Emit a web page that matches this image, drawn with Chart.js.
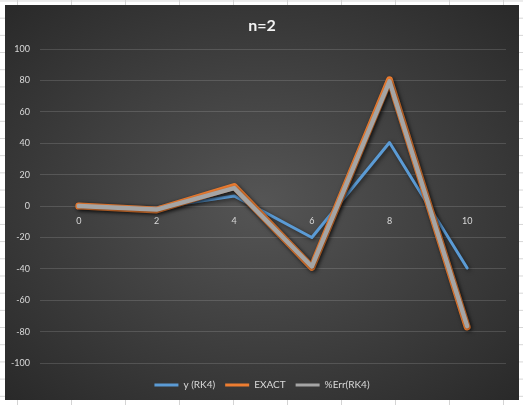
<!DOCTYPE html>
<html>
<head>
<meta charset="utf-8">
<script src="https://cdn.jsdelivr.net/npm/chart.js@4"></script>
<style>
  html, body { margin: 0; padding: 0; }
  body {
    width: 523px; height: 405px; overflow: hidden; position: relative;
    background-color: #fff;
    background-image:
      linear-gradient(to right, #d4d4d4 1px, transparent 1px),
      linear-gradient(to bottom, #d4d4d4 1px, transparent 1px);
    background-size: 54px 100%, 100% 17.2px;
    background-position: 17px 0, 0 0.5px;
  }
  #box {
    position: absolute; left: 5px; top: 5px; width: 514px; height: 395px;
    background: radial-gradient(ellipse farthest-corner at 50% 50%, #555555 0%, #292929 100%);
  }
</style>
</head>
<body>
<div id="box"><canvas id="chart"></canvas></div>
<script>
const categories = ['0', '2', '4', '6', '8', '10'];
const yRK4 = [0, -1, 6.5, -20, 40.5, -39.5];
const exact = [0, -2.5, 12.5, -39, 80.5, -77];
const errRK4 = [0, -2.2, 11.5, -38.5, 79.5, -76.5];
const yTicks = [-100, -80, -60, -40, -20, 0, 20, 40, 60, 80, 100];

const FONT = 'Lato, "Open Sans", sans-serif';
const TEXT = '#d9d9d9';

// soft dark shadow under each series, like the Excel style
const lineShadow = {
    id: 'lineShadow',
    beforeDatasetDraw(chart) {
        const c = chart.ctx;
        c.save();
        c.shadowColor = 'rgba(0,0,0,0.55)';
        c.shadowBlur = 4;
        c.shadowOffsetX = 1.5;
        c.shadowOffsetY = 1.5;
    },
    afterDatasetDraw(chart) {
        chart.ctx.restore();
    }
};

const ctx = document.getElementById('chart').getContext('2d');
const chart = new Chart(ctx, {
    type: 'line',
    data: {
        labels: categories,
        datasets: [
            {
                label: 'y (RK4)',
                data: yRK4,
                borderColor: '#5b9bd5',
                backgroundColor: '#5b9bd5',
                borderWidth: 3,
                order: 3
            },
            {
                label: 'EXACT',
                data: exact,
                borderColor: '#ed7d31',
                backgroundColor: '#ed7d31',
                borderWidth: 7,
                order: 2
            },
            {
                label: '%Err(RK4)',
                data: errRK4,
                borderColor: '#a5a5a5',
                backgroundColor: '#a5a5a5',
                borderWidth: 4.5,
                order: 1
            }
        ]
    },
    options: {
        responsive: true,
        maintainAspectRatio: false,
        animation: false,
        layout: { padding: 0 },
        elements: {
            point: { radius: 0, hoverRadius: 0 },
            line: { tension: 0, borderJoinStyle: 'round', borderCapStyle: 'round' }
        },
        scales: {
            x: {
                position: { y: 0 },
                offset: true,
                grid: { display: false },
                border: { display: false },
                ticks: { color: TEXT, font: { family: FONT, size: 9 }, padding: 2, maxRotation: 0 }
            },
            y: {
                min: -100,
                max: 100,
                afterFit(scale) { scale.width = 35; },
                afterBuildTicks(scale) { scale.ticks = yTicks.map(v => ({ value: v })); },
                grid: { color: 'rgba(255,255,255,0.14)', drawTicks: false, lineWidth: 1 },
                border: { display: false },
                ticks: { color: TEXT, font: { family: FONT, size: 9 }, padding: 10 }
            },
            // empty right gutter so title and legend stay centred on the box
            gutter: {
                type: 'linear',
                position: 'right',
                afterFit(scale) { scale.width = 13; },
                grid: { display: false },
                border: { display: false },
                ticks: { display: false }
            }
        },
        plugins: {
            title: {
                display: true,
                text: 'n=2',
                color: '#f2f2f2',
                font: { family: FONT, size: 16, weight: 'bold' },
                padding: { top: 11, bottom: 14 }
            },
            legend: {
                position: 'bottom',
                title: { display: true, text: '', font: { size: 5 }, padding: { top: 1, bottom: 0 } },
                labels: {
                    color: TEXT,
                    font: { family: FONT, size: 10 },
                    boxWidth: 24,
                    boxHeight: 3,
                    padding: 10,
                    generateLabels(chart) {
                        return Chart.defaults.plugins.legend.labels.generateLabels(chart)
                            .sort((a, b) => a.datasetIndex - b.datasetIndex)
                            .map(item => ({ ...item, fillStyle: item.strokeStyle, lineWidth: 0 }));
                    }
                }
            },
            tooltip: { enabled: false }
        }
    },
    plugins: [lineShadow]
});
</script>
</body>
</html>
